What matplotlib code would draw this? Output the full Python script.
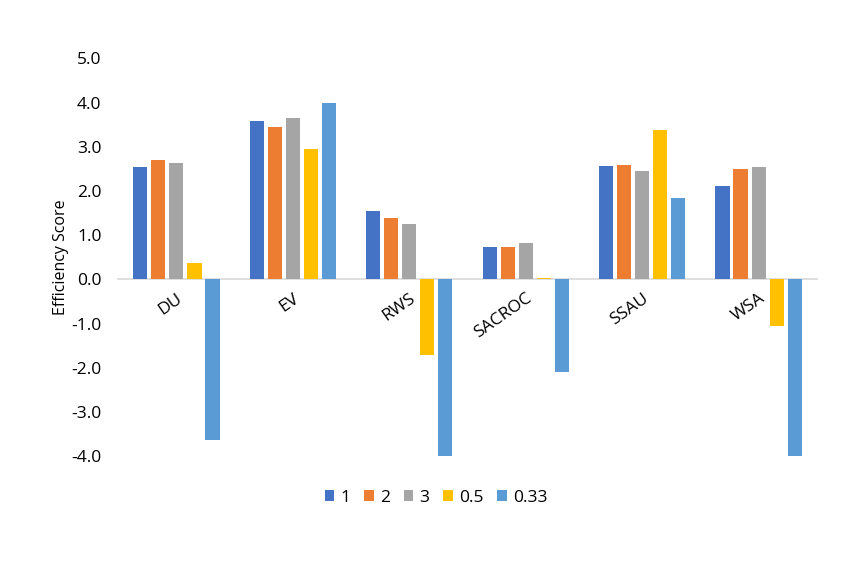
import numpy as np
import matplotlib
matplotlib.use("Agg")
import matplotlib.pyplot as plt

plt.rcParams['font.family'] = ['Open Sans', 'DejaVu Sans']

# Data
sites = ['DU', 'EV', 'RWS', 'SACROC', 'SSAU', 'WSA']
series_names = ['1', '2', '3', '0.5', '0.33']
s1 = [2.53, 3.58, 1.54, 0.73, 2.57, 2.11]
s2 = [2.71, 3.45, 1.39, 0.73, 2.59, 2.50]
s3 = [2.63, 3.64, 1.26, 0.83, 2.44, 2.53]
s05 = [0.36, 2.94, -1.71, 0.04, 3.38, -1.06]
s033 = [-3.64, 3.98, -4.04, -2.09, 1.85, -4.04]
yticks = [-4, -3, -2, -1, 0, 1, 2, 3, 4, 5]

colors = ['#4472C4', '#ED7D31', '#A5A5A5', '#FFC000', '#5B9BD5']
all_series = [s1, s2, s3, s05, s033]

fig = plt.figure(figsize=(8.5, 5.66), dpi=100)
ax = fig.add_axes([0.139, 0.194, 0.822, 0.703])

x = np.arange(len(sites))
step = 0.155
width = 0.122
for i, (vals, c, name) in enumerate(zip(all_series, colors, series_names)):
    ax.bar(x + (i - 2) * step, vals, width, color=c, label=name, zorder=2)

ax.set_xlim(-0.5, len(sites) - 0.5)
ax.set_ylim(-4, 5)
ax.set_yticks(yticks)
ax.set_yticklabels([f'{v:.1f}' for v in yticks], fontsize=12.5)
ax.tick_params(axis='y', length=0, pad=12)

ax.spines['bottom'].set_position('zero')
ax.spines['bottom'].set_color('#d9d9d9')
ax.spines['bottom'].set_linewidth(1.2)
ax.spines['bottom'].set_zorder(1)
for s in ['top', 'right', 'left']:
    ax.spines[s].set_visible(False)

ax.set_xticks(x)
ax.set_xticklabels(sites, fontsize=12.5, rotation=35, ha='right',
                   rotation_mode='anchor')
ax.tick_params(axis='x', length=0, pad=8)

ax.set_ylabel('Efficiency Score', fontsize=11.5)
ax.yaxis.set_label_coords(-0.07, 0.5)

ax.legend(loc='upper center', bbox_to_anchor=(0.455, -0.045), ncol=5,
          frameon=False, fontsize=12.5, handlelength=0.55, handleheight=0.55,
          handletextpad=0.35, columnspacing=0.8)

fig.savefig('out.png', dpi=100)
